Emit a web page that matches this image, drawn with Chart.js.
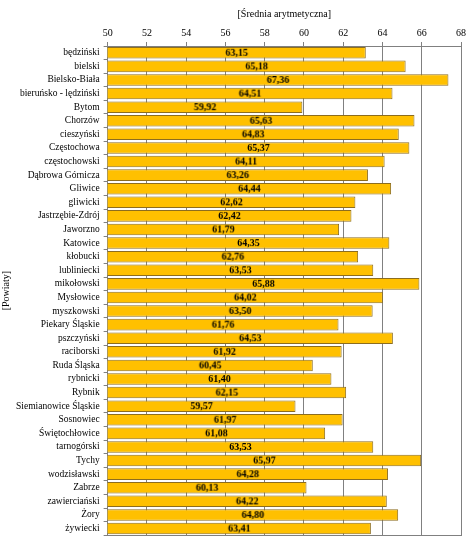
<!DOCTYPE html>
<html>
<head>
<meta charset="utf-8">
<script src="https://cdn.jsdelivr.net/npm/chart.js@4/dist/chart.umd.min.js"></script>
<style>
html,body{margin:0;padding:0;background:#fff;}
#wrap{width:476px;height:545px;position:relative;}
</style>
</head>
<body>
<div id="wrap"><canvas id="c"></canvas></div>
<script>
const categories = ["będziński","bielski","Bielsko-Biała","bieruńsko - lędziński","Bytom","Chorzów","cieszyński","Częstochowa","częstochowski","Dąbrowa Górnicza","Gliwice","gliwicki","Jastrzębie-Zdrój","Jaworzno","Katowice","kłobucki","lubliniecki","mikołowski","Mysłowice","myszkowski","Piekary Śląskie","pszczyński","raciborski","Ruda Śląska","rybnicki","Rybnik","Siemianowice Śląskie","Sosnowiec","Świętochłowice","tarnogórski","Tychy","wodzisławski","Zabrze","zawierciański","Żory","żywiecki"];
const values = [63.15,65.18,67.36,64.51,59.92,65.63,64.83,65.37,64.11,63.26,64.44,62.62,62.42,61.79,64.35,62.76,63.53,65.88,64.02,63.50,61.76,64.53,61.92,60.45,61.40,62.15,59.57,61.97,61.08,63.53,65.97,64.28,60.13,64.22,64.80,63.41];
const xTicks = [50,52,54,56,58,60,62,64,66,68];
const xTitle = "[Średnia arytmetyczna]";
const yTitle = "[Powiaty]";

const FONT = "'Liberation Serif','Times New Roman',serif";
const X_MIN = 50, X_MAX = 68;

function fmt(v){ return v.toFixed(2).replace('.', ','); }
function labelImage(text){
  const c = document.createElement('canvas');
  const g = c.getContext('2d');
  g.font = "bold 10px " + FONT;
  const w = Math.ceil(g.measureText(text).width) + 2;
  c.width = w; c.height = 12;
  const g2 = c.getContext('2d');
  g2.font = "bold 10px " + FONT;
  g2.fillStyle = "#000";
  g2.textAlign = "center";
  g2.textBaseline = "middle";
  g2.fillText(text, w/2, 6.5);
  return c;
}
const labelImages = values.map(v => labelImage(fmt(v)));
const labelCenters = values.map(v => (X_MIN + v) / 2);

new Chart(document.getElementById('c'), {
  type:'bar',
  data:{
    labels:categories,
    datasets:[{
      type:'line',
      label:'etykiety',
      data:labelCenters,
      showLine:false,
      pointStyle:labelImages,
      pointRadius:3,
      pointHoverRadius:3,
      order:0,
      xAxisID:'x',
      yAxisID:'y'
    },{
      type:'bar',
      label:'Średnia arytmetyczna',
      data:values,
      backgroundColor:'#FFC000',
      borderColor:'#8C6D1F',
      borderWidth:1,
      categoryPercentage:1,
      barPercentage:0.85,
      borderSkipped:false,
      order:1,
      xAxisID:'x',
      yAxisID:'y'
    }]
  },
  options:{
    indexAxis:'y',
    responsive:true,
    maintainAspectRatio:false,
    animation:false,
    events:[],
    layout:{padding:{left:0,right:15,top:8,bottom:8}},
    plugins:{legend:{display:false},tooltip:{enabled:false}},
    scales:{
      x:{
        position:'top',
        min:X_MIN,max:X_MAX,
        afterBuildTicks(s){ s.ticks = xTicks.map(v=>({value:v})); },
        ticks:{color:'#000',font:{family:FONT,size:10},padding:3},
        grid:{color:'#808080',tickLength:4,drawOnChartArea:true},
        border:{color:'#808080'},
        title:{display:true,text:xTitle,color:'#000',font:{family:FONT,size:10},padding:{top:0,bottom:4}}
      },
      x2:{
        type:'linear',
        position:'bottom',
        min:X_MIN,max:X_MAX,
        ticks:{display:false},
        grid:{drawOnChartArea:false,drawTicks:false,color:'#808080'},
        border:{color:'#808080',display:true}
      },
      y:{
        ticks:{color:'#000',font:{family:FONT,size:9.5},padding:4,autoSkip:false},
        grid:{color:'#808080',tickLength:4,drawOnChartArea:false,offset:true},
        border:{color:'#808080'},
        title:{display:true,text:yTitle,color:'#000',font:{family:FONT,size:10},padding:{top:0,bottom:0}}
      }
    }
  }
});
</script>
</body>
</html>
